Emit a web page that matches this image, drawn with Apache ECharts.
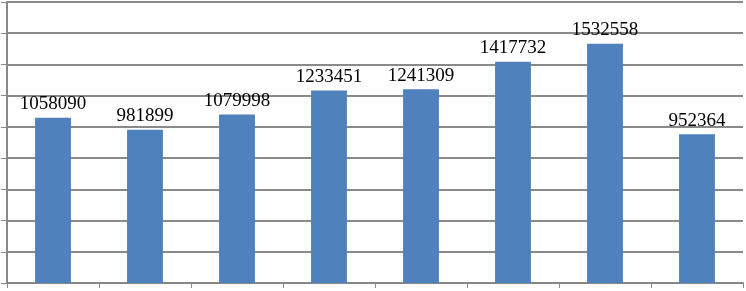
<!DOCTYPE html>
<html>
<head>
<meta charset="utf-8">
<script src="https://cdn.jsdelivr.net/npm/echarts@6/dist/echarts.min.js"></script>
<style>html,body{margin:0;padding:0;background:#fff;}#c{width:746px;height:291px;}</style>
</head>
<body>
<div id="c"></div>
<script>
const categories = ['1', '2', '3', '4', '5', '6', '7', '8'];
const values = [1058090, 981899, 1079998, 1233451, 1241309, 1417732, 1532558, 952364];
const yTicks = { min: 0, max: 1800000, interval: 200000 };

const chart = echarts.init(document.getElementById('c'), null, { renderer: 'canvas' });
chart.setOption({
  animation: false,
  backgroundColor: '#ffffff',
  grid: { left: 7, right: 3, top: 2, bottom: 8, containLabel: false },
  xAxis: {
    type: 'category',
    data: categories,
    boundaryGap: true,
    axisLine: { show: true, lineStyle: { color: '#878787', width: 2 } },
    axisTick: { show: true, alignWithLabel: false, length: 5, lineStyle: { color: '#878787', width: 1 } },
    axisLabel: { show: false },
    splitLine: { show: false }
  },
  yAxis: {
    type: 'value',
    min: yTicks.min, max: yTicks.max, interval: yTicks.interval,
    axisLine: { show: true, lineStyle: { color: '#878787', width: 2 } },
    axisTick: { show: true, length: 6, lineStyle: { color: '#878787', width: 1 } },
    axisLabel: { show: false },
    splitLine: { show: true, lineStyle: { color: '#8a8a8a', width: 2 } }
  },
  series: [{
    type: 'bar',
    data: values,
    barWidth: '39%',
    itemStyle: { color: '#4F81BD' },
    label: {
      show: true,
      position: 'top',
      distance: 4,
      color: '#000000',
      fontFamily: 'Liberation Serif',
      fontSize: 19
    }
  }]
});
</script>
</body>
</html>
